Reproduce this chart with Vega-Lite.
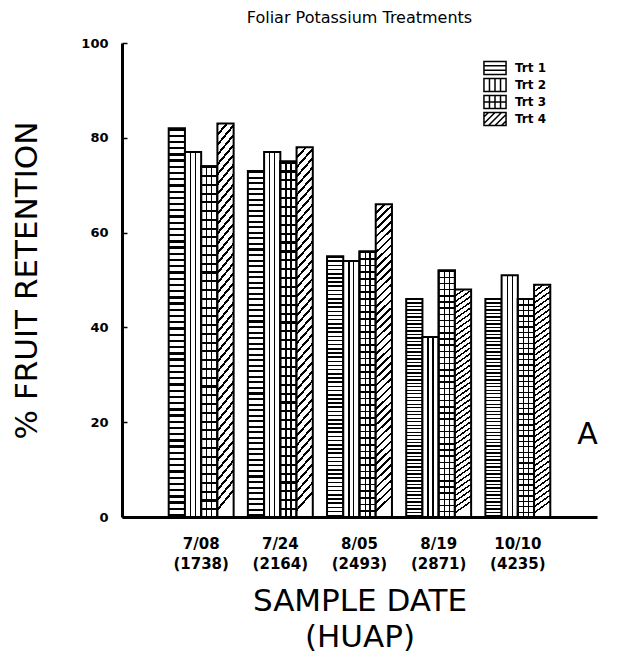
{
"$schema": "https://vega.github.io/schema/vega-lite/v6.json",
"width": 475, "height": 474,
"autosize": {"type": "none"},
"padding": {"left": 122, "top": 43, "right": 28, "bottom": 139},
"background": "white",
"config": {"view": {"stroke": null}, "font": "DejaVu Sans"},
"title": {"text": "Foliar Potassium Treatments", "fontSize": 16, "fontWeight": "normal", "color": "black", "offset": 11, "anchor": "middle"},
"data": {"values": [
{"date": "7/08 (1738)", "trt": "Trt 1", "value": 82},
{"date": "7/08 (1738)", "trt": "Trt 2", "value": 77},
{"date": "7/08 (1738)", "trt": "Trt 3", "value": 74},
{"date": "7/08 (1738)", "trt": "Trt 4", "value": 83},
{"date": "7/24 (2164)", "trt": "Trt 1", "value": 73},
{"date": "7/24 (2164)", "trt": "Trt 2", "value": 77},
{"date": "7/24 (2164)", "trt": "Trt 3", "value": 75},
{"date": "7/24 (2164)", "trt": "Trt 4", "value": 78},
{"date": "8/05 (2493)", "trt": "Trt 1", "value": 55},
{"date": "8/05 (2493)", "trt": "Trt 2", "value": 54},
{"date": "8/05 (2493)", "trt": "Trt 3", "value": 56},
{"date": "8/05 (2493)", "trt": "Trt 4", "value": 66},
{"date": "8/19 (2871)", "trt": "Trt 1", "value": 46},
{"date": "8/19 (2871)", "trt": "Trt 2", "value": 38},
{"date": "8/19 (2871)", "trt": "Trt 3", "value": 52},
{"date": "8/19 (2871)", "trt": "Trt 4", "value": 48},
{"date": "10/10 (4235)", "trt": "Trt 1", "value": 46},
{"date": "10/10 (4235)", "trt": "Trt 2", "value": 51},
{"date": "10/10 (4235)", "trt": "Trt 3", "value": 46},
{"date": "10/10 (4235)", "trt": "Trt 4", "value": 49}
]},
"encoding": {
"x": {"field": "date", "type": "nominal", "sort": null,
 "scale": {"domain": ["7/08 (1738)", "7/24 (2164)", "8/05 (2493)", "8/19 (2871)", "10/10 (4235)"], "paddingInner": 0.18, "paddingOuter": 0.59},
 "axis": {"title": ["SAMPLE DATE", "(HUAP)"], "labelExpr": "split(datum.value, ' ')", "labelAngle": 0, "labelFontSize": 15, "labelFontWeight": "bold", "labelColor": "black", "labelPadding": 19, "labelLineHeight": 20, "ticks": false, "domainWidth": 3, "domainColor": "black", "titleFontSize": 31, "titleFontWeight": "normal", "titleLineHeight": 36, "titlePadding": 15, "titleColor": "black"}},
"xOffset": {"field": "trt", "type": "nominal", "scale": {"domain": ["Trt 1", "Trt 2", "Trt 3", "Trt 4"], "paddingInner": 0, "paddingOuter": 0}}
},
"layer": [
{"mark": {"type": "point", "filled": true, "fill": "white", "stroke": "black", "strokeWidth": 1.6, "size": 169, "fillOpacity": 0, "strokeOpacity": 0},
 "encoding": {
  "y": {"datum": 20, "type": "quantitative", "scale": {"domain": [0, 100]}, "axis": null},
  "shape": {"field": "trt", "type": "nominal",
   "scale": {"domain": ["Trt 1", "Trt 2", "Trt 3", "Trt 4"], "range": [
     "M-1.7,-1H1.7V1H-1.7Z M-1.7,-0.33H1.7 M-1.7,0.33H1.7",
     "M-1.7,-1H1.7V1H-1.7Z M-0.85,-1V1 M0,-1V1 M0.85,-1V1",
     "M-1.7,-1H1.7V1H-1.7Z M-1.7,0H1.7 M-0.85,-1V1 M0,-1V1 M0.85,-1V1",
     "M-1.7,-1H1.7V1H-1.7Z M-1.7,-0.3L-1,-1 M-1.7,0.7L0,-1 M-1,1L1,-1 M0,1L1.7,-0.7 M1,1L1.7,0.3"]},
   "legend": {"title": null, "orient": "none", "legendX": 365.5, "legendY": 17.5, "padding": 0, "symbolSize": 169, "labelOffset": 12.5, "labelFontSize": 12, "labelFontWeight": "bold", "labelColor": "black", "rowPadding": -9,
    "encode": {"symbols": {"fill": {"value": "white"}, "stroke": {"value": "black"}, "strokeWidth": {"value": 1.7}, "fillOpacity": {"value": 1}, "strokeOpacity": {"value": 1}, "opacity": {"value": 1}, "size": {"value": 169}}}}}}},
{"transform": [{"filter": "datum.trt === 'Trt 1'"}],
 "mark": {"type": "bar", "stroke": "black", "strokeWidth": 2, "fill": {"gradient": "linear", "x1": 0, "y1": 0, "x2": 0, "y2": 1, "stops": [
{"offset":0,"color":"#000"},{"offset":0.006,"color":"#000"},{"offset":0.006,"color":"#fff"},{"offset":0.016,"color":"#fff"},
{"offset":0.016,"color":"#000"},{"offset":0.022,"color":"#000"},{"offset":0.022,"color":"#fff"},{"offset":0.032,"color":"#fff"},
{"offset":0.032,"color":"#000"},{"offset":0.038,"color":"#000"},{"offset":0.038,"color":"#fff"},{"offset":0.048,"color":"#fff"},
{"offset":0.048,"color":"#000"},{"offset":0.054,"color":"#000"},{"offset":0.054,"color":"#fff"},{"offset":0.064,"color":"#fff"},
{"offset":0.064,"color":"#000"},{"offset":0.07,"color":"#000"},{"offset":0.07,"color":"#fff"},{"offset":0.08,"color":"#fff"},
{"offset":0.08,"color":"#000"},{"offset":0.086,"color":"#000"},{"offset":0.086,"color":"#fff"},{"offset":0.096,"color":"#fff"},
{"offset":0.096,"color":"#000"},{"offset":0.102,"color":"#000"},{"offset":0.102,"color":"#fff"},{"offset":0.112,"color":"#fff"},
{"offset":0.112,"color":"#000"},{"offset":0.118,"color":"#000"},{"offset":0.118,"color":"#fff"},{"offset":0.128,"color":"#fff"},
{"offset":0.128,"color":"#000"},{"offset":0.134,"color":"#000"},{"offset":0.134,"color":"#fff"},{"offset":0.144,"color":"#fff"},
{"offset":0.144,"color":"#000"},{"offset":0.15,"color":"#000"},{"offset":0.15,"color":"#fff"},{"offset":0.16,"color":"#fff"},
{"offset":0.16,"color":"#000"},{"offset":0.166,"color":"#000"},{"offset":0.166,"color":"#fff"},{"offset":0.176,"color":"#fff"},
{"offset":0.176,"color":"#000"},{"offset":0.182,"color":"#000"},{"offset":0.182,"color":"#fff"},{"offset":0.192,"color":"#fff"},
{"offset":0.192,"color":"#000"},{"offset":0.198,"color":"#000"},{"offset":0.198,"color":"#fff"},{"offset":0.208,"color":"#fff"},
{"offset":0.208,"color":"#000"},{"offset":0.214,"color":"#000"},{"offset":0.214,"color":"#fff"},{"offset":0.224,"color":"#fff"},
{"offset":0.224,"color":"#000"},{"offset":0.23,"color":"#000"},{"offset":0.23,"color":"#fff"},{"offset":0.24,"color":"#fff"},
{"offset":0.24,"color":"#000"},{"offset":0.246,"color":"#000"},{"offset":0.246,"color":"#fff"},{"offset":0.256,"color":"#fff"},
{"offset":0.256,"color":"#000"},{"offset":0.262,"color":"#000"},{"offset":0.262,"color":"#fff"},{"offset":0.272,"color":"#fff"},
{"offset":0.272,"color":"#000"},{"offset":0.278,"color":"#000"},{"offset":0.278,"color":"#fff"},{"offset":0.288,"color":"#fff"},
{"offset":0.288,"color":"#000"},{"offset":0.294,"color":"#000"},{"offset":0.294,"color":"#fff"},{"offset":0.304,"color":"#fff"},
{"offset":0.304,"color":"#000"},{"offset":0.31,"color":"#000"},{"offset":0.31,"color":"#fff"},{"offset":0.32,"color":"#fff"},
{"offset":0.32,"color":"#000"},{"offset":0.326,"color":"#000"},{"offset":0.326,"color":"#fff"},{"offset":0.336,"color":"#fff"},
{"offset":0.336,"color":"#000"},{"offset":0.342,"color":"#000"},{"offset":0.342,"color":"#fff"},{"offset":0.352,"color":"#fff"},
{"offset":0.352,"color":"#000"},{"offset":0.358,"color":"#000"},{"offset":0.358,"color":"#fff"},{"offset":0.368,"color":"#fff"},
{"offset":0.368,"color":"#000"},{"offset":0.374,"color":"#000"},{"offset":0.374,"color":"#fff"},{"offset":0.384,"color":"#fff"},
{"offset":0.384,"color":"#000"},{"offset":0.39,"color":"#000"},{"offset":0.39,"color":"#fff"},{"offset":0.4,"color":"#fff"},
{"offset":0.4,"color":"#000"},{"offset":0.406,"color":"#000"},{"offset":0.406,"color":"#fff"},{"offset":0.416,"color":"#fff"},
{"offset":0.416,"color":"#000"},{"offset":0.422,"color":"#000"},{"offset":0.422,"color":"#fff"},{"offset":0.432,"color":"#fff"},
{"offset":0.432,"color":"#000"},{"offset":0.438,"color":"#000"},{"offset":0.438,"color":"#fff"},{"offset":0.448,"color":"#fff"},
{"offset":0.448,"color":"#000"},{"offset":0.454,"color":"#000"},{"offset":0.454,"color":"#fff"},{"offset":0.464,"color":"#fff"},
{"offset":0.464,"color":"#000"},{"offset":0.47,"color":"#000"},{"offset":0.47,"color":"#fff"},{"offset":0.48,"color":"#fff"},
{"offset":0.48,"color":"#000"},{"offset":0.486,"color":"#000"},{"offset":0.486,"color":"#fff"},{"offset":0.496,"color":"#fff"},
{"offset":0.496,"color":"#000"},{"offset":0.502,"color":"#000"},{"offset":0.502,"color":"#fff"},{"offset":0.512,"color":"#fff"},
{"offset":0.512,"color":"#000"},{"offset":0.518,"color":"#000"},{"offset":0.518,"color":"#fff"},{"offset":0.528,"color":"#fff"},
{"offset":0.528,"color":"#000"},{"offset":0.534,"color":"#000"},{"offset":0.534,"color":"#fff"},{"offset":0.544,"color":"#fff"},
{"offset":0.544,"color":"#000"},{"offset":0.55,"color":"#000"},{"offset":0.55,"color":"#fff"},{"offset":0.56,"color":"#fff"},
{"offset":0.56,"color":"#000"},{"offset":0.566,"color":"#000"},{"offset":0.566,"color":"#fff"},{"offset":0.576,"color":"#fff"},
{"offset":0.576,"color":"#000"},{"offset":0.582,"color":"#000"},{"offset":0.582,"color":"#fff"},{"offset":0.592,"color":"#fff"},
{"offset":0.592,"color":"#000"},{"offset":0.598,"color":"#000"},{"offset":0.598,"color":"#fff"},{"offset":0.608,"color":"#fff"},
{"offset":0.608,"color":"#000"},{"offset":0.614,"color":"#000"},{"offset":0.614,"color":"#fff"},{"offset":0.624,"color":"#fff"},
{"offset":0.624,"color":"#000"},{"offset":0.63,"color":"#000"},{"offset":0.63,"color":"#fff"},{"offset":0.64,"color":"#fff"},
{"offset":0.64,"color":"#000"},{"offset":0.646,"color":"#000"},{"offset":0.646,"color":"#fff"},{"offset":0.656,"color":"#fff"},
{"offset":0.656,"color":"#000"},{"offset":0.662,"color":"#000"},{"offset":0.662,"color":"#fff"},{"offset":0.672,"color":"#fff"},
{"offset":0.672,"color":"#000"},{"offset":0.678,"color":"#000"},{"offset":0.678,"color":"#fff"},{"offset":0.688,"color":"#fff"},
{"offset":0.688,"color":"#000"},{"offset":0.694,"color":"#000"},{"offset":0.694,"color":"#fff"},{"offset":0.704,"color":"#fff"},
{"offset":0.704,"color":"#000"},{"offset":0.71,"color":"#000"},{"offset":0.71,"color":"#fff"},{"offset":0.72,"color":"#fff"},
{"offset":0.72,"color":"#000"},{"offset":0.726,"color":"#000"},{"offset":0.726,"color":"#fff"},{"offset":0.736,"color":"#fff"},
{"offset":0.736,"color":"#000"},{"offset":0.742,"color":"#000"},{"offset":0.742,"color":"#fff"},{"offset":0.752,"color":"#fff"},
{"offset":0.752,"color":"#000"},{"offset":0.758,"color":"#000"},{"offset":0.758,"color":"#fff"},{"offset":0.768,"color":"#fff"},
{"offset":0.768,"color":"#000"},{"offset":0.774,"color":"#000"},{"offset":0.774,"color":"#fff"},{"offset":0.784,"color":"#fff"},
{"offset":0.784,"color":"#000"},{"offset":0.79,"color":"#000"},{"offset":0.79,"color":"#fff"},{"offset":0.8,"color":"#fff"},
{"offset":0.8,"color":"#000"},{"offset":0.806,"color":"#000"},{"offset":0.806,"color":"#fff"},{"offset":0.816,"color":"#fff"},
{"offset":0.816,"color":"#000"},{"offset":0.822,"color":"#000"},{"offset":0.822,"color":"#fff"},{"offset":0.832,"color":"#fff"},
{"offset":0.832,"color":"#000"},{"offset":0.838,"color":"#000"},{"offset":0.838,"color":"#fff"},{"offset":0.848,"color":"#fff"},
{"offset":0.848,"color":"#000"},{"offset":0.854,"color":"#000"},{"offset":0.854,"color":"#fff"},{"offset":0.864,"color":"#fff"},
{"offset":0.864,"color":"#000"},{"offset":0.87,"color":"#000"},{"offset":0.87,"color":"#fff"},{"offset":0.88,"color":"#fff"},
{"offset":0.88,"color":"#000"},{"offset":0.886,"color":"#000"},{"offset":0.886,"color":"#fff"},{"offset":0.896,"color":"#fff"},
{"offset":0.896,"color":"#000"},{"offset":0.902,"color":"#000"},{"offset":0.902,"color":"#fff"},{"offset":0.912,"color":"#fff"},
{"offset":0.912,"color":"#000"},{"offset":0.918,"color":"#000"},{"offset":0.918,"color":"#fff"},{"offset":0.928,"color":"#fff"},
{"offset":0.928,"color":"#000"},{"offset":0.934,"color":"#000"},{"offset":0.934,"color":"#fff"},{"offset":0.944,"color":"#fff"},
{"offset":0.944,"color":"#000"},{"offset":0.95,"color":"#000"},{"offset":0.95,"color":"#fff"},{"offset":0.96,"color":"#fff"},
{"offset":0.96,"color":"#000"},{"offset":0.966,"color":"#000"},{"offset":0.966,"color":"#fff"},{"offset":0.976,"color":"#fff"},
{"offset":0.976,"color":"#000"},{"offset":0.982,"color":"#000"},{"offset":0.982,"color":"#fff"},{"offset":0.992,"color":"#fff"},
{"offset":0.992,"color":"#000"},{"offset":0.998,"color":"#000"},{"offset":0.998,"color":"#fff"},{"offset":1,"color":"#fff"}
 ]}},
 "encoding": {"y": {"field": "value", "type": "quantitative", "scale": {"domain": [0, 100]},
  "axis": {"values": [0, 20, 40, 60, 80, 100], "title": "% FRUIT RETENTION", "titleFontSize": 31, "titleFontWeight": "normal", "titleColor": "black", "titlePadding": 37, "labelFontSize": 13, "labelFontWeight": "bold", "labelColor": "black", "labelPadding": 19, "tickSize": -5, "tickWidth": 1.5, "tickColor": "black", "domainWidth": 3, "domainColor": "black", "grid": false}}}},
{"transform": [{"filter": "datum.trt === 'Trt 2'"}],
 "mark": {"type": "bar", "stroke": "black", "strokeWidth": 2, "fill": {"gradient": "linear", "x1": 0, "y1": 0, "x2": 1, "y2": 0, "stops": [
{"offset":0,"color":"#fff"},{"offset":0.31,"color":"#fff"},{"offset":0.31,"color":"#000"},{"offset":0.39,"color":"#000"},{"offset":0.39,"color":"#fff"},{"offset":0.61,"color":"#fff"},{"offset":0.61,"color":"#000"},{"offset":0.69,"color":"#000"},{"offset":0.69,"color":"#fff"},{"offset":1,"color":"#fff"}
 ]}},
 "encoding": {"y": {"field": "value", "type": "quantitative", "scale": {"domain": [0, 100]}, "axis": null}}},
{"transform": [{"filter": "datum.trt === 'Trt 3'"}],
 "mark": {"type": "bar", "stroke": "black", "strokeWidth": 2, "fill": {"gradient": "linear", "x1": 0, "y1": 0, "x2": 0, "y2": 1, "stops": [
{"offset":0,"color":"#000"},{"offset":0.006,"color":"#000"},{"offset":0.006,"color":"#fff"},{"offset":0.025,"color":"#fff"},
{"offset":0.025,"color":"#000"},{"offset":0.031,"color":"#000"},{"offset":0.031,"color":"#fff"},{"offset":0.05,"color":"#fff"},
{"offset":0.05,"color":"#000"},{"offset":0.056,"color":"#000"},{"offset":0.056,"color":"#fff"},{"offset":0.075,"color":"#fff"},
{"offset":0.075,"color":"#000"},{"offset":0.081,"color":"#000"},{"offset":0.081,"color":"#fff"},{"offset":0.1,"color":"#fff"},
{"offset":0.1,"color":"#000"},{"offset":0.106,"color":"#000"},{"offset":0.106,"color":"#fff"},{"offset":0.125,"color":"#fff"},
{"offset":0.125,"color":"#000"},{"offset":0.131,"color":"#000"},{"offset":0.131,"color":"#fff"},{"offset":0.15,"color":"#fff"},
{"offset":0.15,"color":"#000"},{"offset":0.156,"color":"#000"},{"offset":0.156,"color":"#fff"},{"offset":0.175,"color":"#fff"},
{"offset":0.175,"color":"#000"},{"offset":0.181,"color":"#000"},{"offset":0.181,"color":"#fff"},{"offset":0.2,"color":"#fff"},
{"offset":0.2,"color":"#000"},{"offset":0.206,"color":"#000"},{"offset":0.206,"color":"#fff"},{"offset":0.225,"color":"#fff"},
{"offset":0.225,"color":"#000"},{"offset":0.231,"color":"#000"},{"offset":0.231,"color":"#fff"},{"offset":0.25,"color":"#fff"},
{"offset":0.25,"color":"#000"},{"offset":0.256,"color":"#000"},{"offset":0.256,"color":"#fff"},{"offset":0.275,"color":"#fff"},
{"offset":0.275,"color":"#000"},{"offset":0.281,"color":"#000"},{"offset":0.281,"color":"#fff"},{"offset":0.3,"color":"#fff"},
{"offset":0.3,"color":"#000"},{"offset":0.306,"color":"#000"},{"offset":0.306,"color":"#fff"},{"offset":0.325,"color":"#fff"},
{"offset":0.325,"color":"#000"},{"offset":0.331,"color":"#000"},{"offset":0.331,"color":"#fff"},{"offset":0.35,"color":"#fff"},
{"offset":0.35,"color":"#000"},{"offset":0.356,"color":"#000"},{"offset":0.356,"color":"#fff"},{"offset":0.375,"color":"#fff"},
{"offset":0.375,"color":"#000"},{"offset":0.381,"color":"#000"},{"offset":0.381,"color":"#fff"},{"offset":0.4,"color":"#fff"},
{"offset":0.4,"color":"#000"},{"offset":0.406,"color":"#000"},{"offset":0.406,"color":"#fff"},{"offset":0.425,"color":"#fff"},
{"offset":0.425,"color":"#000"},{"offset":0.431,"color":"#000"},{"offset":0.431,"color":"#fff"},{"offset":0.45,"color":"#fff"},
{"offset":0.45,"color":"#000"},{"offset":0.456,"color":"#000"},{"offset":0.456,"color":"#fff"},{"offset":0.475,"color":"#fff"},
{"offset":0.475,"color":"#000"},{"offset":0.481,"color":"#000"},{"offset":0.481,"color":"#fff"},{"offset":0.5,"color":"#fff"},
{"offset":0.5,"color":"#000"},{"offset":0.506,"color":"#000"},{"offset":0.506,"color":"#fff"},{"offset":0.525,"color":"#fff"},
{"offset":0.525,"color":"#000"},{"offset":0.531,"color":"#000"},{"offset":0.531,"color":"#fff"},{"offset":0.55,"color":"#fff"},
{"offset":0.55,"color":"#000"},{"offset":0.556,"color":"#000"},{"offset":0.556,"color":"#fff"},{"offset":0.575,"color":"#fff"},
{"offset":0.575,"color":"#000"},{"offset":0.581,"color":"#000"},{"offset":0.581,"color":"#fff"},{"offset":0.6,"color":"#fff"},
{"offset":0.6,"color":"#000"},{"offset":0.606,"color":"#000"},{"offset":0.606,"color":"#fff"},{"offset":0.625,"color":"#fff"},
{"offset":0.625,"color":"#000"},{"offset":0.631,"color":"#000"},{"offset":0.631,"color":"#fff"},{"offset":0.65,"color":"#fff"},
{"offset":0.65,"color":"#000"},{"offset":0.656,"color":"#000"},{"offset":0.656,"color":"#fff"},{"offset":0.675,"color":"#fff"},
{"offset":0.675,"color":"#000"},{"offset":0.681,"color":"#000"},{"offset":0.681,"color":"#fff"},{"offset":0.7,"color":"#fff"},
{"offset":0.7,"color":"#000"},{"offset":0.706,"color":"#000"},{"offset":0.706,"color":"#fff"},{"offset":0.725,"color":"#fff"},
{"offset":0.725,"color":"#000"},{"offset":0.731,"color":"#000"},{"offset":0.731,"color":"#fff"},{"offset":0.75,"color":"#fff"},
{"offset":0.75,"color":"#000"},{"offset":0.756,"color":"#000"},{"offset":0.756,"color":"#fff"},{"offset":0.775,"color":"#fff"},
{"offset":0.775,"color":"#000"},{"offset":0.781,"color":"#000"},{"offset":0.781,"color":"#fff"},{"offset":0.8,"color":"#fff"},
{"offset":0.8,"color":"#000"},{"offset":0.806,"color":"#000"},{"offset":0.806,"color":"#fff"},{"offset":0.825,"color":"#fff"},
{"offset":0.825,"color":"#000"},{"offset":0.831,"color":"#000"},{"offset":0.831,"color":"#fff"},{"offset":0.85,"color":"#fff"},
{"offset":0.85,"color":"#000"},{"offset":0.856,"color":"#000"},{"offset":0.856,"color":"#fff"},{"offset":0.875,"color":"#fff"},
{"offset":0.875,"color":"#000"},{"offset":0.881,"color":"#000"},{"offset":0.881,"color":"#fff"},{"offset":0.9,"color":"#fff"},
{"offset":0.9,"color":"#000"},{"offset":0.906,"color":"#000"},{"offset":0.906,"color":"#fff"},{"offset":0.925,"color":"#fff"},
{"offset":0.925,"color":"#000"},{"offset":0.931,"color":"#000"},{"offset":0.931,"color":"#fff"},{"offset":0.95,"color":"#fff"},
{"offset":0.95,"color":"#000"},{"offset":0.956,"color":"#000"},{"offset":0.956,"color":"#fff"},{"offset":0.975,"color":"#fff"},
{"offset":0.975,"color":"#000"},{"offset":0.981,"color":"#000"},{"offset":0.981,"color":"#fff"},{"offset":1,"color":"#fff"}
 ]}},
 "encoding": {"y": {"field": "value", "type": "quantitative", "scale": {"domain": [0, 100]}, "axis": null}}},
{"transform": [{"filter": "datum.trt === 'Trt 3'"}],
 "mark": {"type": "bar", "stroke": "black", "strokeWidth": 2, "fill": {"gradient": "linear", "x1": 0, "y1": 0, "x2": 1, "y2": 0, "stops": [
{"offset":0,"color":"rgba(255,255,255,0)"},{"offset":0.31,"color":"rgba(255,255,255,0)"},{"offset":0.31,"color":"#000"},{"offset":0.39,"color":"#000"},{"offset":0.39,"color":"rgba(255,255,255,0)"},{"offset":0.61,"color":"rgba(255,255,255,0)"},{"offset":0.61,"color":"#000"},{"offset":0.69,"color":"#000"},{"offset":0.69,"color":"rgba(255,255,255,0)"},{"offset":1,"color":"rgba(255,255,255,0)"}
 ]}},
 "encoding": {"y": {"field": "value", "type": "quantitative", "scale": {"domain": [0, 100]}, "axis": null}}},
{"transform": [{"filter": "datum.trt === 'Trt 4'"}],
 "mark": {"type": "bar", "stroke": "black", "strokeWidth": 2, "fill": {"gradient": "linear", "x1": 0, "y1": 0, "x2": 0.05, "y2": 1, "stops": [
{"offset":0,"color":"#000"},{"offset":0.008,"color":"#000"},{"offset":0.008,"color":"#fff"},{"offset":0.025,"color":"#fff"},
{"offset":0.025,"color":"#000"},{"offset":0.033,"color":"#000"},{"offset":0.033,"color":"#fff"},{"offset":0.05,"color":"#fff"},
{"offset":0.05,"color":"#000"},{"offset":0.058,"color":"#000"},{"offset":0.058,"color":"#fff"},{"offset":0.075,"color":"#fff"},
{"offset":0.075,"color":"#000"},{"offset":0.083,"color":"#000"},{"offset":0.083,"color":"#fff"},{"offset":0.1,"color":"#fff"},
{"offset":0.1,"color":"#000"},{"offset":0.108,"color":"#000"},{"offset":0.108,"color":"#fff"},{"offset":0.125,"color":"#fff"},
{"offset":0.125,"color":"#000"},{"offset":0.133,"color":"#000"},{"offset":0.133,"color":"#fff"},{"offset":0.15,"color":"#fff"},
{"offset":0.15,"color":"#000"},{"offset":0.158,"color":"#000"},{"offset":0.158,"color":"#fff"},{"offset":0.175,"color":"#fff"},
{"offset":0.175,"color":"#000"},{"offset":0.183,"color":"#000"},{"offset":0.183,"color":"#fff"},{"offset":0.2,"color":"#fff"},
{"offset":0.2,"color":"#000"},{"offset":0.208,"color":"#000"},{"offset":0.208,"color":"#fff"},{"offset":0.225,"color":"#fff"},
{"offset":0.225,"color":"#000"},{"offset":0.233,"color":"#000"},{"offset":0.233,"color":"#fff"},{"offset":0.25,"color":"#fff"},
{"offset":0.25,"color":"#000"},{"offset":0.258,"color":"#000"},{"offset":0.258,"color":"#fff"},{"offset":0.275,"color":"#fff"},
{"offset":0.275,"color":"#000"},{"offset":0.283,"color":"#000"},{"offset":0.283,"color":"#fff"},{"offset":0.3,"color":"#fff"},
{"offset":0.3,"color":"#000"},{"offset":0.308,"color":"#000"},{"offset":0.308,"color":"#fff"},{"offset":0.325,"color":"#fff"},
{"offset":0.325,"color":"#000"},{"offset":0.333,"color":"#000"},{"offset":0.333,"color":"#fff"},{"offset":0.35,"color":"#fff"},
{"offset":0.35,"color":"#000"},{"offset":0.358,"color":"#000"},{"offset":0.358,"color":"#fff"},{"offset":0.375,"color":"#fff"},
{"offset":0.375,"color":"#000"},{"offset":0.383,"color":"#000"},{"offset":0.383,"color":"#fff"},{"offset":0.4,"color":"#fff"},
{"offset":0.4,"color":"#000"},{"offset":0.408,"color":"#000"},{"offset":0.408,"color":"#fff"},{"offset":0.425,"color":"#fff"},
{"offset":0.425,"color":"#000"},{"offset":0.433,"color":"#000"},{"offset":0.433,"color":"#fff"},{"offset":0.45,"color":"#fff"},
{"offset":0.45,"color":"#000"},{"offset":0.458,"color":"#000"},{"offset":0.458,"color":"#fff"},{"offset":0.475,"color":"#fff"},
{"offset":0.475,"color":"#000"},{"offset":0.483,"color":"#000"},{"offset":0.483,"color":"#fff"},{"offset":0.5,"color":"#fff"},
{"offset":0.5,"color":"#000"},{"offset":0.508,"color":"#000"},{"offset":0.508,"color":"#fff"},{"offset":0.525,"color":"#fff"},
{"offset":0.525,"color":"#000"},{"offset":0.533,"color":"#000"},{"offset":0.533,"color":"#fff"},{"offset":0.55,"color":"#fff"},
{"offset":0.55,"color":"#000"},{"offset":0.558,"color":"#000"},{"offset":0.558,"color":"#fff"},{"offset":0.575,"color":"#fff"},
{"offset":0.575,"color":"#000"},{"offset":0.583,"color":"#000"},{"offset":0.583,"color":"#fff"},{"offset":0.6,"color":"#fff"},
{"offset":0.6,"color":"#000"},{"offset":0.608,"color":"#000"},{"offset":0.608,"color":"#fff"},{"offset":0.625,"color":"#fff"},
{"offset":0.625,"color":"#000"},{"offset":0.633,"color":"#000"},{"offset":0.633,"color":"#fff"},{"offset":0.65,"color":"#fff"},
{"offset":0.65,"color":"#000"},{"offset":0.658,"color":"#000"},{"offset":0.658,"color":"#fff"},{"offset":0.675,"color":"#fff"},
{"offset":0.675,"color":"#000"},{"offset":0.683,"color":"#000"},{"offset":0.683,"color":"#fff"},{"offset":0.7,"color":"#fff"},
{"offset":0.7,"color":"#000"},{"offset":0.708,"color":"#000"},{"offset":0.708,"color":"#fff"},{"offset":0.725,"color":"#fff"},
{"offset":0.725,"color":"#000"},{"offset":0.733,"color":"#000"},{"offset":0.733,"color":"#fff"},{"offset":0.75,"color":"#fff"},
{"offset":0.75,"color":"#000"},{"offset":0.758,"color":"#000"},{"offset":0.758,"color":"#fff"},{"offset":0.775,"color":"#fff"},
{"offset":0.775,"color":"#000"},{"offset":0.783,"color":"#000"},{"offset":0.783,"color":"#fff"},{"offset":0.8,"color":"#fff"},
{"offset":0.8,"color":"#000"},{"offset":0.808,"color":"#000"},{"offset":0.808,"color":"#fff"},{"offset":0.825,"color":"#fff"},
{"offset":0.825,"color":"#000"},{"offset":0.833,"color":"#000"},{"offset":0.833,"color":"#fff"},{"offset":0.85,"color":"#fff"},
{"offset":0.85,"color":"#000"},{"offset":0.858,"color":"#000"},{"offset":0.858,"color":"#fff"},{"offset":0.875,"color":"#fff"},
{"offset":0.875,"color":"#000"},{"offset":0.883,"color":"#000"},{"offset":0.883,"color":"#fff"},{"offset":0.9,"color":"#fff"},
{"offset":0.9,"color":"#000"},{"offset":0.908,"color":"#000"},{"offset":0.908,"color":"#fff"},{"offset":0.925,"color":"#fff"},
{"offset":0.925,"color":"#000"},{"offset":0.933,"color":"#000"},{"offset":0.933,"color":"#fff"},{"offset":0.95,"color":"#fff"},
{"offset":0.95,"color":"#000"},{"offset":0.958,"color":"#000"},{"offset":0.958,"color":"#fff"},{"offset":0.975,"color":"#fff"},
{"offset":0.975,"color":"#000"},{"offset":0.983,"color":"#000"},{"offset":0.983,"color":"#fff"},{"offset":1,"color":"#fff"}
 ]}},
 "encoding": {"y": {"field": "value", "type": "quantitative", "scale": {"domain": [0, 100]},
  "axis": {"orient": "right", "title": "A", "titleAngle": 0, "titleFontSize": 30, "titleFontWeight": "normal", "titleColor": "black", "domain": false, "ticks": false, "labels": false, "grid": false, "titleX": -10, "titleY": 391, "titleAlign": "center", "titleBaseline": "middle"}}}}
],
"resolve": {"axis": {"y": "independent"}}
}
